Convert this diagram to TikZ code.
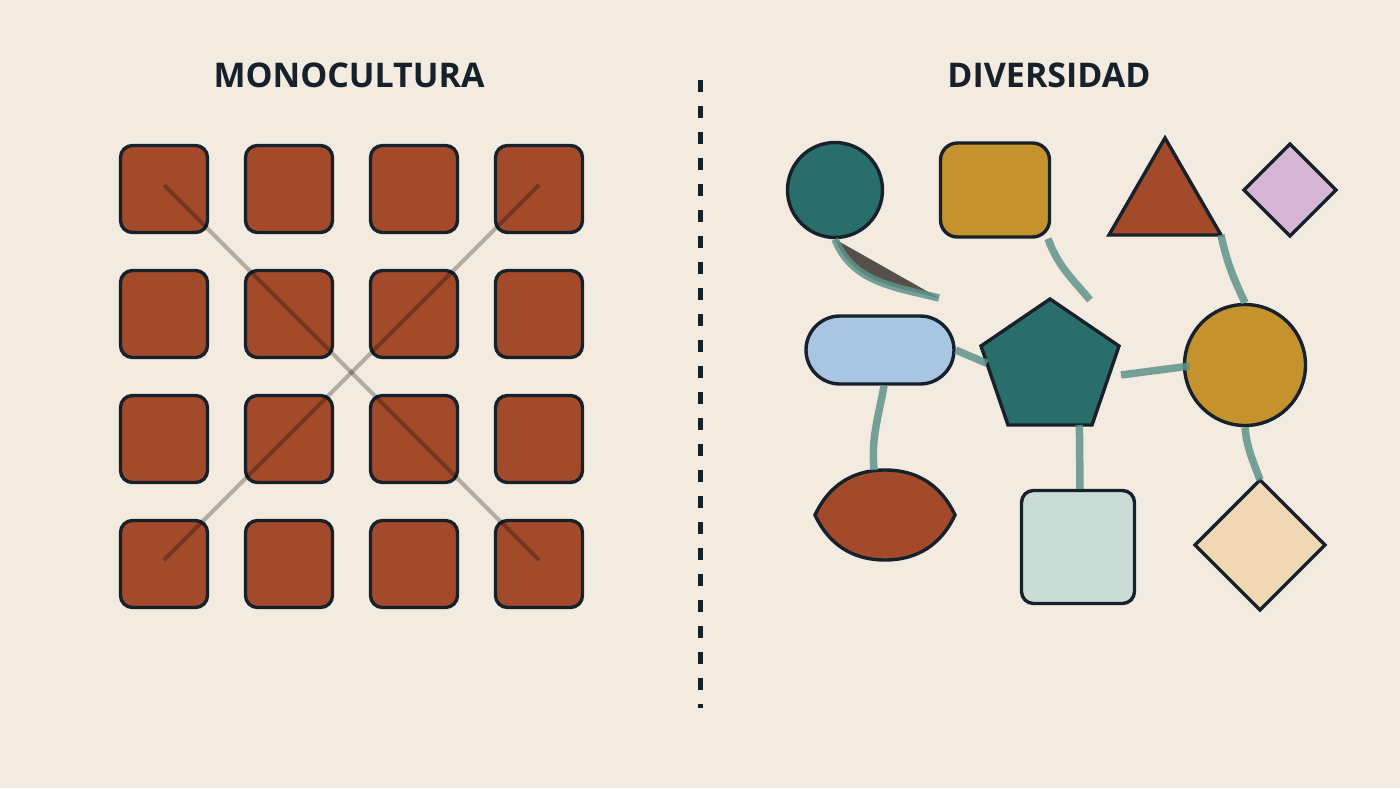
\documentclass[tikz,border=0pt]{standalone}
\usepackage{fontspec}
\setmainfont{Open Sans}
\usetikzlibrary{calc}

\definecolor{paper}{HTML}{F3EBDF}
\definecolor{ink}{HTML}{17212B}
\definecolor{rust}{HTML}{A34A2A}
\definecolor{sea}{HTML}{2A6E6B}
\definecolor{gold}{HTML}{C6922D}
\definecolor{lilac}{HTML}{D7B6D6}
\definecolor{sky}{HTML}{A8C6E4}
\definecolor{mint}{HTML}{C9DCD5}
\definecolor{wheat}{HTML}{F0D8B4}
\definecolor{linkc}{HTML}{5E938B}
\definecolor{smudge}{HTML}{55504A}

\begin{document}
\begin{tikzpicture}[x=1pt,y=-1pt,
    tile/.style={draw=ink,line width=3.4pt,fill=rust,rounded corners=12pt,
      minimum width=87pt,minimum height=87pt,inner sep=0pt},
    shp/.style={draw=ink,line width=3.4pt,inner sep=0pt},
    cross/.style={draw=black,draw opacity=0.27,line width=4pt},
    link/.style={draw=linkc,draw opacity=0.85,line width=7.5pt},
    title/.style={font=\bfseries\fontsize{34}{40}\selectfont,text=ink,anchor=base}]
  \fill[paper] (0,0) rectangle (1400,788);

  % Monoculture
  \node[title] (mono) at (349,87) {MONOCULTURA};
  \foreach \i in {0,...,3}
    \foreach \j in {0,...,3}
      \node[tile] (sq\i\j) at (164+125*\i,189+125*\j) {};
  \draw[cross] ($(sq00)+(0,-4)$) -- ($(sq33)+(0,-4)$);
  \draw[cross] ($(sq30)+(0,-4)$) -- ($(sq03)+(0,-4)$);

  % divider
  \draw[ink,line width=5pt,dash pattern=on 12pt off 14pt] (700,80) -- (700,708);

  % Diversity
  \node[title] (div) at (1049,87) {DIVERSIDAD};
  \node[shp,circle,fill=sea,minimum size=95pt] (cteal) at (835,190) {};
  \node[shp,rounded corners=17pt,fill=gold,minimum width=109pt,minimum height=94pt] (rgold) at (995,190) {};
  \draw[shp,fill=rust] (1165,138) coordinate (tri-top) -- (1221,235) coordinate (tri-r)
      -- (1109,235) coordinate (tri-l) -- cycle;
  \draw[shp,fill=lilac] (1290,144) -- (1336,190) -- (1290,236) -- (1244,190) -- cycle;
  \node[shp,rounded corners=34pt,fill=sky,minimum width=148pt,minimum height=68pt] (pill) at (880,350) {};
  \draw[shp,fill=sea] (1050,299) coordinate (pent-top) -- (1119,346) coordinate (pent-r)
      -- (1092,425) coordinate (pent-br) -- (1008,425) coordinate (pent-bl)
      -- (981,346) coordinate (pent-l) -- cycle;
  \node[shp,circle,fill=gold,minimum size=121pt] (cgold) at (1245,365) {};
  \draw[shp,fill=rust] (815,515) coordinate (lens-l) to[out=65,in=180] (885,470) coordinate (lens-top)
      to[out=0,in=115] (955,515) coordinate (lens-r) to[out=-115,in=0] (885,560) to[out=180,in=-65] cycle;
  \node[shp,rounded corners=12pt,fill=mint,minimum size=113pt] (rmint) at (1078,547) {};
  \draw[shp,fill=wheat] (1260,480) coordinate (dia-top) -- (1325,545) -- (1260,610) -- (1195,545) -- cycle;

  % links
  \coordinate (lk1) at (939,298);
  \coordinate (lk2) at (1090,300);
  \coordinate (lk5) at (1121,375);
  \draw[link,fill=smudge] (cteal.south) to[out=-68,in=166] (lk1);
  \draw[link] ($(rgold.south)+(53,0)$) to[out=-70,in=130] (lk2);
  \draw[link] (tri-r) to[out=-78,in=115] (cgold.north);
  \draw[link] (pill.east) -- ($(pent-l)!0.22!(pent-bl)$);
  \draw[link] (lk5) -- ($(cgold.west)+(7,1)$);
  \draw[link] ($(pill.south)+(4,0)$) to[out=-100,in=95] ($(lens-top)+(-11,0)$);
  \draw[link] ($(pent-bl)!0.85!(pent-br)$) -- ($(rmint.north)+(2,0)$);
  \draw[link] (cgold.south) to[out=-85,in=110] (dia-top);
\end{tikzpicture}
\end{document}
